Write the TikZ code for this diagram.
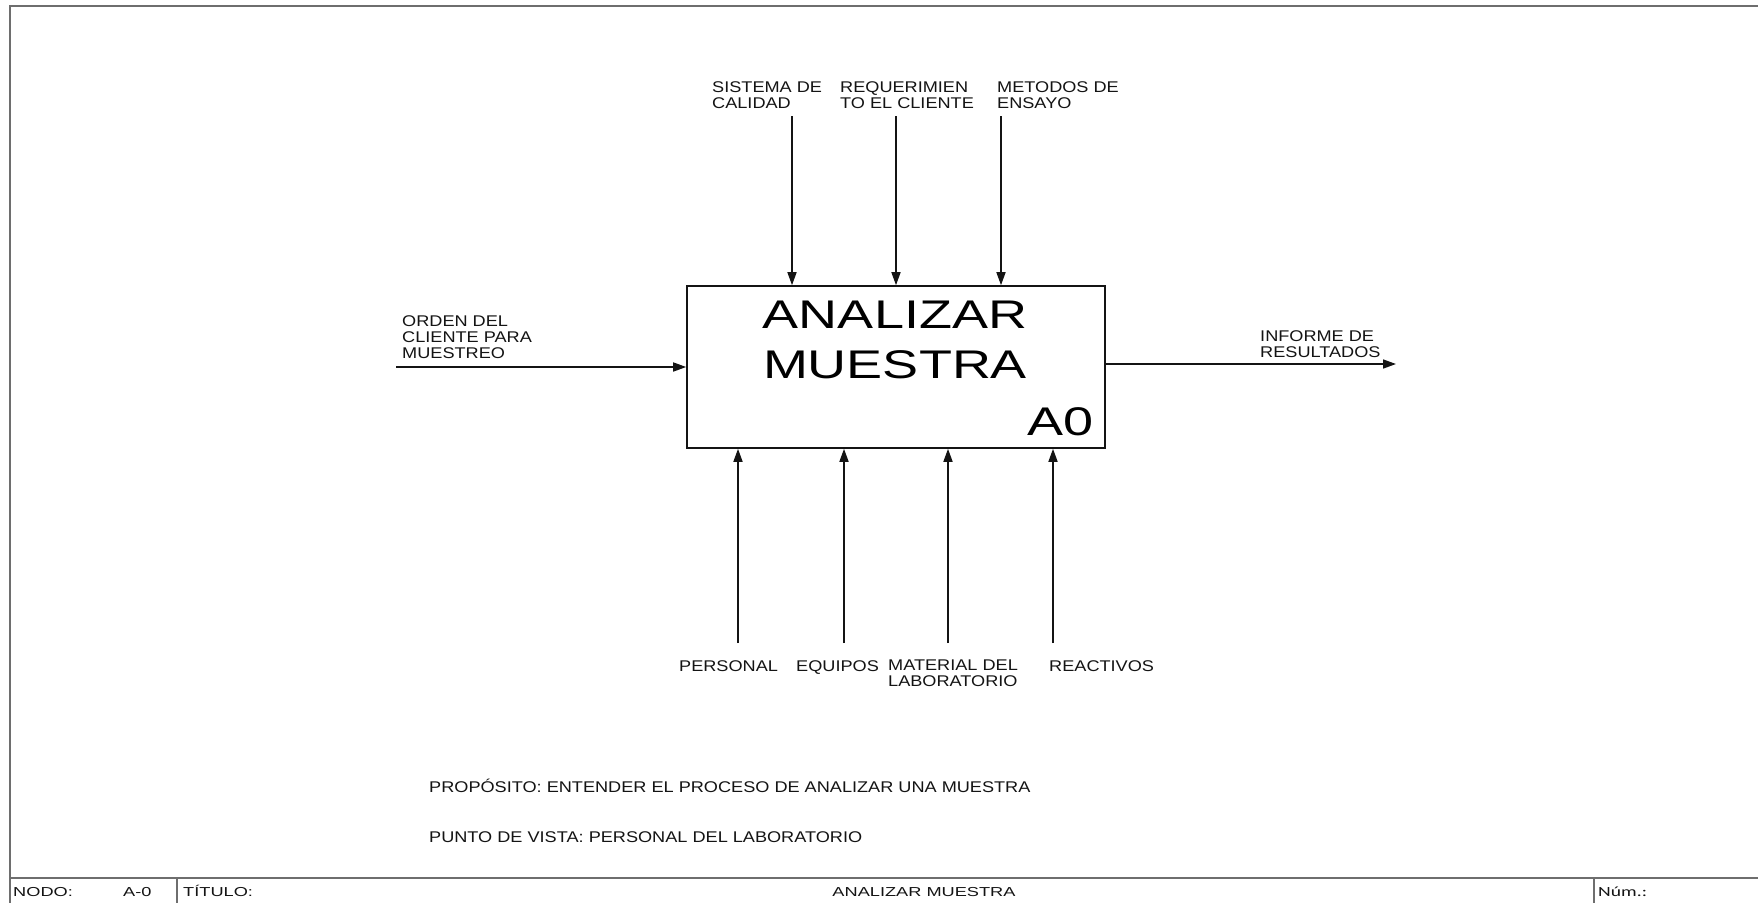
\documentclass[tikz,border=0pt]{standalone}
\usepackage{fontspec}
\setmainfont{Liberation Sans}
\newfontfamily\labfont[FakeStretch=1.17]{Liberation Sans}
\newfontfamily\boxfont[FakeStretch=1.35]{Liberation Sans}
\newfontfamily\barfont[FakeStretch=1.4]{Liberation Sans}
\newfontfamily\numfont[FakeStretch=1.4]{Carlito}
\usetikzlibrary{arrows.meta}
\definecolor{framegray}{HTML}{6E6E6E}
\definecolor{inkdark}{HTML}{141414}
\begin{document}
\begin{tikzpicture}[x=1pt,y=-1pt,
  frameline/.style={draw=framegray,line width=2pt},
  arr/.style={draw=inkdark,line width=1.6pt,-{Triangle[length=13pt,width=9pt]}},
  procbox/.style={draw=inkdark,line width=1.6pt,minimum width=418pt,minimum height=162pt,inner sep=0pt},
  lab/.style={inner sep=0pt,align=left,text=inkdark,font=\labfont\fontsize{15.5}{16}\selectfont},
  bartext/.style={inner sep=0pt,text=inkdark,font=\barfont\fontsize{13}{15}\selectfont},
  bigtext/.style={inner sep=0pt,text=black,font=\boxfont\fontsize{40}{50}\selectfont}]
\useasboundingbox (0,0) rectangle (1758,903);
\fill[white] (0,0) rectangle (1758,903);
% frame
\draw[frameline] (1758,6) -- (10,6) -- (10,903);
\draw[frameline] (10,878) -- (1758,878);
\draw[frameline] (177,878) -- (177,903);
\draw[frameline] (1594,878) -- (1594,903);
% process box
\node[procbox] (box) at (896,367) {};
\node[bigtext,anchor=north,align=center] (title) at (895,300.4) {ANALIZAR\\MUESTRA};
\node[bigtext,anchor=base east] (code) at (1094,435) {A0};
% controls (top)
\coordinate (cS) at (792,116);
\coordinate (cR) at (896,116);
\coordinate (cM) at (1001,116);
\draw[arr] (cS) -- (cS |- box.north);
\draw[arr] (cR) -- (cR |- box.north);
\draw[arr] (cM) -- (cM |- box.north);
\node[lab,anchor=north west] (lS) at (712,81.9) {SISTEMA DE\\CALIDAD};
\node[lab,anchor=north west] (lR) at (840,81.9) {REQUERIMIEN\\TO EL CLIENTE};
\node[lab,anchor=north west] (lM) at (997,81.9) {METODOS DE\\ENSAYO};
% input
\coordinate (iO) at (396,367);
\draw[arr] (iO) -- (box.west);
\node[lab,anchor=north west] (lI) at (402,315.9) {ORDEN DEL\\CLIENTE PARA\\MUESTREO};
% output
\coordinate (oI) at (1396,364);
\draw[arr] (box.east |- oI) -- (oI);
\node[lab,anchor=north west] (lO) at (1260,330.9) {INFORME DE\\RESULTADOS};
% mechanisms (bottom)
\coordinate (mP) at (738,643);
\coordinate (mE) at (844,643);
\coordinate (mL) at (948,643);
\coordinate (mR) at (1053,643);
\draw[arr] (mP) -- (mP |- box.south);
\draw[arr] (mE) -- (mE |- box.south);
\draw[arr] (mL) -- (mL |- box.south);
\draw[arr] (mR) -- (mR |- box.south);
\node[lab,anchor=base west] (lP) at (679,671) {PERSONAL};
\node[lab,anchor=base west] (lE) at (796,671) {EQUIPOS};
\node[lab,anchor=north west] (lL) at (888,659.9) {MATERIAL DEL\\LABORATORIO};
\node[lab,anchor=base west] (lRe) at (1049,671) {REACTIVOS};
% purpose / viewpoint
\node[lab,anchor=base west] (purp) at (429,792) {PROPÓSITO: ENTENDER EL PROCESO DE ANALIZAR UNA MUESTRA};
\node[lab,anchor=base west] (view) at (429,842) {PUNTO DE VISTA: PERSONAL DEL LABORATORIO};
% title bar
\node[bartext,anchor=base west] (nodo) at (13,896) {NODO:};
\node[bartext,anchor=base west] (nodov) at (123,896) {A-0};
\node[bartext,anchor=base west] (tit) at (183,896) {TÍTULO:};
\node[bartext,anchor=base] (titv) at (924,896) {ANALIZAR MUESTRA};
\node[inner sep=0pt,anchor=base west,text=inkdark,font=\numfont\fontsize{14}{16}\selectfont] (num) at (1598,896) {Núm.:};
\end{tikzpicture}
\end{document}
